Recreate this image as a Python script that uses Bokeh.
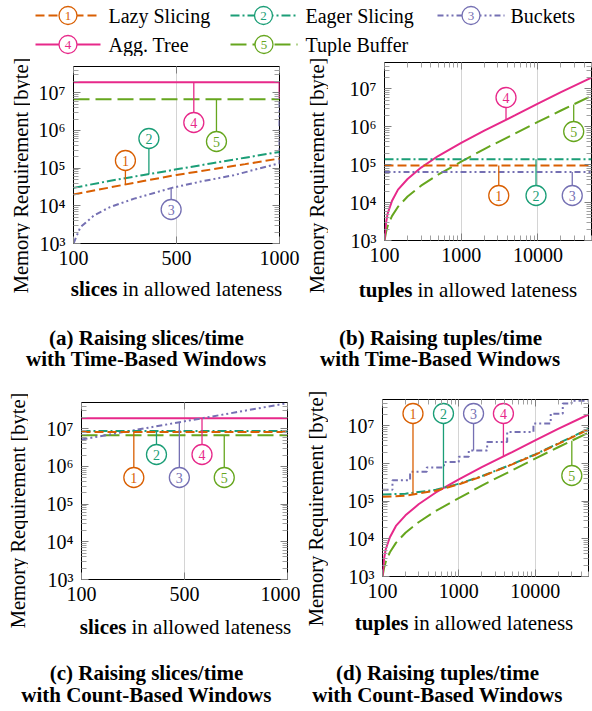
import numpy as np
from bokeh.plotting import figure
from bokeh.layouts import column, row
from bokeh.models import Range1d, FixedTicker, LinearAxis, LogAxis
from bokeh.core.properties import value
from bokeh.embed import file_html
from bokeh.resources import INLINE

# ---------------- data ----------------
SERIES = ["Lazy Slicing", "Eager Slicing", "Buckets", "Agg. Tree", "Tuple Buffer"]
COLORS = ["#d95f02", "#1b9e77", "#7570b3", "#e7298a", "#66a61e"]
DASHES = ["9 4", "9 3 2 3", "6 3 2 3 2 3", "solid", "16 6"]

Y_TICKS = [1e3, 1e4, 1e5, 1e6, 1e7]
Y_TICK_LABELS = ["10³", "10⁴", "10⁵", "10⁶", "10⁷"]
SLICE_TICKS = [100, 550, 1000]
SLICE_TICK_LABELS = ["100", "500", "1000"]
TUPLE_TICKS = [100, 1000, 10000]
TUPLE_TICK_LABELS = ["100", "1000", "10000"]

# (a) slices, time-based windows
A_X = [100, 250, 400, 550, 700, 850, 1000]
A_LAZY = [2.0e4, 3.0e4, 4.5e4, 6.6e4, 9.2e4, 1.28e5, 1.8e5]
A_EAGER = [3.0e4, 4.5e4, 6.5e4, 9.3e4, 1.33e5, 1.9e5, 2.7e5]
A_BUCKETS_X = [100, 130, 190, 260, 365, 530, 655, 800, 1000, 1000]
A_BUCKETS = [1.0e3, 2.7e3, 5.6e3, 9.3e3, 1.55e4, 3.0e4, 4.4e4, 6.5e4, 1.35e5, 5.9e6]
A_TREE_X = [100, 1000, 1000]
A_TREE = [1.9e7, 1.9e7, 7.2e6]
A_BUFFER_X = [100, 1000]
A_BUFFER = [6.8e6, 6.8e6]

# (b) tuples, time-based windows
B_X = [100, 105, 110, 125, 150, 200, 300, 500, 1000, 2000, 5000, 10000, 20000, 50000]
B_TREE = [1.0e3, 3.0e3, 5.2e3, 1.1e4, 2.2e4, 4.2e4, 8.4e4, 1.7e5, 3.8e5, 8.0e5, 2.0e6, 4.1e6, 8.3e6, 2.0e7]
B_BUFFER = [1.0e3, 1.7e3, 2.4e3, 4.4e3, 7.8e3, 1.45e4, 2.8e4, 5.5e4, 1.2e5, 2.6e5, 6.6e5, 1.35e6, 2.7e6, 6.6e6]
B_FLAT_X = [100, 50000]
B_LAZY = [9.6e4, 9.6e4]
B_EAGER = [1.4e5, 1.4e5]
B_BUCKETS = [6.4e4, 6.4e4]

# (c) slices, count-based windows
C_X = [100, 1000]
C_LAZY = [8.3e6, 8.3e6]
C_EAGER = [8.8e6, 8.8e6]
C_BUCKETS_X = [100, 325, 550, 775, 1000]
C_BUCKETS = [5.2e6, 9.1e6, 1.58e7, 2.75e7, 4.8e7]
C_TREE = [1.9e7, 1.9e7]
C_BUFFER = [6.8e6, 6.8e6]

# (d) tuples, count-based windows
D_X = [100, 200, 500, 1000, 2000, 5000, 10000, 20000, 50000]
D_LAZY = [1.3e5, 1.4e5, 1.9e5, 2.8e5, 4.5e5, 9.5e5, 1.7e6, 3.3e6, 8.0e6]
D_EAGER = [1.5e5, 1.58e5, 2.0e5, 2.9e5, 4.6e5, 9.6e5, 1.75e6, 3.4e6, 8.3e6]
D_BUCKETS_X = [100, 135, 230, 380, 640, 1000, 1350, 2350, 4300, 9500, 16000, 23000, 30000, 50000]
D_BUCKETS = [2.0e5, 3.6e5, 6.0e5, 7.8e5, 1.1e6, 1.5e6, 2.2e6, 3.7e6, 6.9e6, 1.15e7, 2.1e7, 3.9e7, 4.6e7, 4.6e7]
D_TREE_X = B_X
D_TREE = B_TREE
D_BUFFER_X = B_X
D_BUFFER = B_BUFFER

CAPTIONS = [("(a) Raising slices/time", "with Time-Based Windows"),
            ("(b) Raising tuples/time", "with Time-Based Windows"),
            ("(c) Raising slices/time", "with Count-Based Windows"),
            ("(d) Raising tuples/time", "with Count-Based Windows")]
X_WORDS = ["slices", "tuples", "slices", "tuples"]
X_REST = "in allowed lateness"
Y_LABEL = "Memory Requirement [byte]"

# ---------------- layout / style ----------------
FONT = "Liberation Serif"
YLO, YHI = 1e3, 5e7
LDEC = np.log10(YHI / YLO)
R_PIN = 10

Y_MINOR = [m * 10.0 ** k for k in range(3, 8) for m in range(2, 10) if m * 10.0 ** k < YHI]
T_MINOR = [m * 10.0 ** k for k in range(2, 5) for m in range(2, 10) if m * 10.0 ** k <= 50000]

# circle annotations: (x fraction of frame, circle centre px above frame bottom) for series 1..5
A_PINS = [(0.252, 83), (0.366, 105), (0.474, 34), (0.584, 121), (0.694, 102)]
B_PINS = [(0.552, 45), (0.732, 45), (0.907, 45), (0.587, 143), (0.914, 109)]
C_PINS = [(0.254, 102), (0.364, 125), (0.475, 102), (0.585, 125), (0.693, 102)]
D_PINS = [(0.148, 163), (0.296, 163), (0.442, 163), (0.587, 163), (0.919, 101)]

# page geometry (pixels)
GEOM = [
    dict(x0=0, W=300, T=56, H=316, fl=73, fr=279, ft=66, fb=243, figb=277, xlb=305, wl=30,
         ylc=(20, 175), xs=(117, 122), xly=288, capx=146, capy=(337, 358)),
    dict(x0=300, W=292, T=56, H=316, fl=384, fr=591, ft=62, fb=240, figb=274, xlb=305, wl=28,
         ylc=(316, 175), xs=(412, 417), xly=289, capx=440, capy=(337, 358)),
    dict(x0=0, W=300, T=372, H=339, fl=81, fr=287, ft=402, fb=579, figb=613, xlb=642, wl=28,
         ylc=(17, 510), xs=(126, 131), xly=626, capx=146, capy=(672, 694)),
    dict(x0=300, W=292, T=372, H=339, fl=382, fr=588, ft=399, fb=576, figb=610, xlb=640, wl=28,
         ylc=(315, 508), xs=(408, 413), xly=622, capx=437, capy=(672, 694)),
]


def no_align(f):
    try:
        f.frame_align = False
    except Exception:
        pass


def style_axis(ax, ticker, labels, show, standoff):
    ax.ticker = ticker
    ax.axis_line_color = None
    ax.major_tick_in = 7
    ax.major_tick_out = 0
    ax.minor_tick_in = 5
    ax.minor_tick_out = 0
    ax.major_tick_line_color = "#808080"
    ax.minor_tick_line_color = "#a0a0a0"
    ax.major_label_standoff = standoff
    if show:
        ax.major_label_overrides = labels
        ax.major_label_text_font = FONT
        ax.major_label_text_font_size = "20px"
        ax.major_label_text_color = "black"
    else:
        ax.major_label_overrides = {t: "" for t in ticker.ticks}
        ax.major_label_text_font_size = "0px"


def curve_at(xs, ys, x, xlog, kind):
    xs = np.asarray(xs, float)
    ys = np.asarray(ys, float)
    if kind == "step":
        i = max(0, np.searchsorted(xs, x, side="right") - 1)
        return ys[i]
    tx = np.log10(xs) if xlog else xs
    t = np.log10(x) if xlog else x
    return 10 ** np.interp(t, tx, np.log10(ys))


def strip(w, h):
    f = figure(width=w, height=h, x_range=Range1d(0, w), y_range=Range1d(0, h),
               output_backend="svg", toolbar_location=None,
               x_axis_location=None, y_axis_location=None,
               min_border_left=0, min_border_right=0, min_border_top=0, min_border_bottom=0)
    f.grid.visible = False
    f.outline_line_color = None
    f.background_fill_color = "white"
    f.border_fill_color = "white"
    no_align(f)
    return f


def put_text(f, x, y, txt, size, bold=False, align="center", angle=0.0, color="black"):
    f.text([x], [y], text=[txt], angle=angle, text_font=value(FONT),
           text_font_size=value(size), text_font_style=value("bold" if bold else "normal"),
           text_color=value(color), text_align=value(align), text_baseline=value("middle"))


def panel(k, xr, xlog, xticks, xlabels, xminor, lines, pins):
    g = GEOM[k]
    wl = g["wl"]
    fw = g["fr"] - g["fl"]
    fh = g["fb"] - g["ft"]
    pw = g["W"] - wl
    ph = g["figb"] - g["T"]
    p = figure(width=pw, height=ph,
               x_axis_type="log" if xlog else "linear", y_axis_type="log",
               x_range=Range1d(*xr), y_range=Range1d(YLO, YHI),
               output_backend="svg", toolbar_location=None,
               min_border_left=g["fl"] - g["x0"] - wl,
               min_border_right=g["x0"] + g["W"] - g["fr"],
               min_border_top=g["ft"] - g["T"],
               min_border_bottom=g["figb"] - g["fb"])
    no_align(p)
    p.outline_line_color = "black"
    p.outline_line_width = 1
    p.background_fill_color = "white"
    p.border_fill_color = "white"
    p.ygrid.visible = False
    xt = FixedTicker(ticks=list(xticks), minor_ticks=list(xminor))
    yt = FixedTicker(ticks=list(Y_TICKS), minor_ticks=list(Y_MINOR))
    p.xgrid.ticker = xt
    p.xgrid.grid_line_color = "#d4d4d4"
    style_axis(p.xaxis[0], xt, dict(zip(xticks, xlabels)), True, 7)
    style_axis(p.yaxis[0], yt, dict(zip(Y_TICKS, Y_TICK_LABELS)), True, 8)
    xt2 = FixedTicker(ticks=list(xticks), minor_ticks=list(xminor))
    yt2 = FixedTicker(ticks=list(Y_TICKS), minor_ticks=list(Y_MINOR))
    top = LogAxis() if xlog else LinearAxis()
    style_axis(top, xt2, {}, False, 0)
    p.add_layout(top, "above")
    right = LogAxis()
    style_axis(right, yt2, {}, False, 0)
    p.add_layout(right, "right")

    lx0, lx1 = (np.log10(xr[0]), np.log10(xr[1])) if xlog else xr

    def xdata(px):
        v = lx0 + px / fw * (lx1 - lx0)
        return 10 ** v if xlog else v

    def ydata(py):
        return 10 ** (np.log10(YLO) + py / fh * LDEC)

    for idx in [4, 3, 2, 1, 0]:
        xs, ys, kind = lines[idx]
        kw = dict(color=COLORS[idx], line_width=2, line_dash=DASHES[idx])
        if kind == "step":
            p.step(xs, ys, mode="after", **kw)
        else:
            p.line(xs, ys, **kw)

    ppd = fh / LDEC
    for idx, (frac, cpx) in enumerate(pins):
        xs, ys, kind = lines[idx]
        x = xdata(frac * fw)
        yc = curve_at(xs, ys, x, xlog, kind)
        cy = ydata(cpx)
        edge = cy * 10 ** (-R_PIN / ppd) if cy > yc else cy * 10 ** (R_PIN / ppd)
        p.segment([x], [yc], [x], [edge], color=COLORS[idx], line_width=1.3)
        p.scatter([x], [cy], size=2 * R_PIN, marker="circle", fill_color="white",
                  line_color=COLORS[idx], line_width=1.3)
        p.text([x], [cy], text=[str(idx + 1)], text_font=value(FONT),
               text_font_size=value("14px"), text_color=COLORS[idx],
               text_align="center", text_baseline="middle")

    # y-label strip (left of the plot)
    hy = g["xlb"] - g["T"]
    ys_ = strip(wl, hy)
    put_text(ys_, g["ylc"][0] - g["x0"], hy - (g["ylc"][1] - g["T"]), Y_LABEL, "20.5px",
             angle=np.pi / 2)
    # x-label strip (under the plot)
    hx = g["xlb"] - g["figb"]
    xs_ = strip(pw, hx)
    ox = g["x0"] + wl
    yy = hx - (g["xly"] - g["figb"])
    put_text(xs_, g["xs"][0] - ox, yy, X_WORDS[k], "21px", bold=True, align="right")
    put_text(xs_, g["xs"][1] - ox, yy, X_REST, "21px", align="left")
    # caption strip
    hc = g["T"] + g["H"] - g["xlb"]
    cs = strip(g["W"], hc)
    for j in range(2):
        put_text(cs, g["capx"] - g["x0"], hc - (g["capy"][j] - g["xlb"]), CAPTIONS[k][j],
                 "21px", bold=True)
    return column(row(ys_, column(p, row(xs_))), cs)


pa = panel(0, (100, 1000), False, SLICE_TICKS, SLICE_TICK_LABELS, [],
           [(A_X, A_LAZY, "line"), (A_X, A_EAGER, "line"), (A_BUCKETS_X, A_BUCKETS, "line"),
            (A_TREE_X, A_TREE, "line"), (A_BUFFER_X, A_BUFFER, "line")], A_PINS)
pb = panel(1, (100, 50000), True, TUPLE_TICKS, TUPLE_TICK_LABELS, T_MINOR,
           [(B_FLAT_X, B_LAZY, "line"), (B_FLAT_X, B_EAGER, "line"), (B_FLAT_X, B_BUCKETS, "line"),
            (B_X, B_TREE, "line"), (B_X, B_BUFFER, "line")], B_PINS)
pc = panel(2, (100, 1000), False, SLICE_TICKS, SLICE_TICK_LABELS, [],
           [(C_X, C_LAZY, "line"), (C_X, C_EAGER, "line"), (C_BUCKETS_X, C_BUCKETS, "line"),
            (C_X, C_TREE, "line"), (C_X, C_BUFFER, "line")], C_PINS)
pd_ = panel(3, (100, 50000), True, TUPLE_TICKS, TUPLE_TICK_LABELS, T_MINOR,
            [(D_X, D_LAZY, "line"), (D_X, D_EAGER, "line"), (D_BUCKETS_X, D_BUCKETS, "step"),
             (D_TREE_X, D_TREE, "line"), (D_BUFFER_X, D_BUFFER, "line")], D_PINS)

# ---------------- legend ----------------
LEG_H = 56
LEG_ROWS_Y = [15, 44]
LEG_POS = [(35, 100, 108, 0), (230, 296, 305, 0), (437, 504, 510, 0),
           (35, 100, 108, 1), (230, 297, 305, 1)]
leg = strip(592, LEG_H)
for i, name in enumerate(SERIES):
    x0, x1, tx, r = LEG_POS[i]
    y = LEG_H - LEG_ROWS_Y[r]
    cx = (x0 + x1) / 2
    leg.line([x0, x1], [y, y], color=COLORS[i], line_width=2, line_dash=DASHES[i])
    leg.scatter([cx], [y], size=18, marker="circle", fill_color="white",
                line_color=COLORS[i], line_width=1.3)
    put_text(leg, cx, y, str(i + 1), "13px", color=COLORS[i])
    put_text(leg, tx, y, name, "20px", align="left")

layout = column(leg, row(pa, pb), row(pc, pd_))
open("out.html", "w").write(file_html(layout, INLINE))
